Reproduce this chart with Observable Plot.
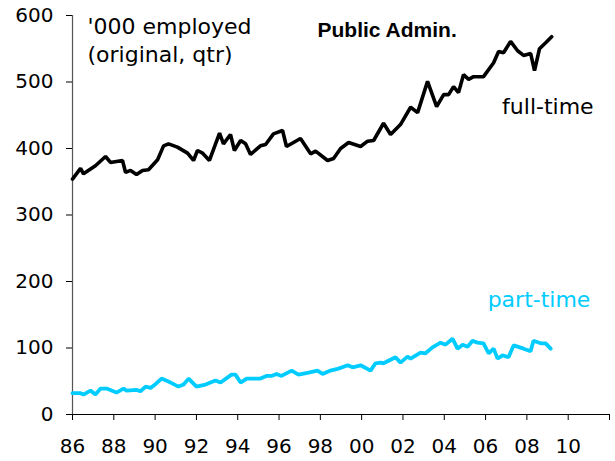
<!DOCTYPE html>
<html>
<head>
<meta charset="utf-8">
<script src="https://cdn.jsdelivr.net/npm/d3@7"></script>
<script src="https://cdn.jsdelivr.net/npm/@observablehq/plot@0.6"></script>
<style>
  html, body { margin: 0; padding: 0; background: #fff; }
  #chart svg { display: block; }
</style>
</head>
<body>
<div id="chart"></div>
<script>
// Full-time employment, Public Administration ('000)
const ftYear = [1986.00,1986.39,1986.53,1987.11,1987.60,1987.84,1988.42,1988.57,1988.81,1989.10,
  1989.39,1989.68,1990.12,1990.41,1990.65,1991.08,1991.57,1991.86,1992.05,1992.30,
  1992.63,1993.12,1993.31,1993.65,1993.84,1994.14,1994.38,1994.62,1995.10,1995.35,
  1995.73,1996.17,1996.36,1997.04,1997.53,1997.77,1998.35,1998.64,1998.98,1999.37,
  1999.95,2000.29,2000.58,2001.06,2001.40,2001.88,2002.37,2002.71,2003.19,2003.63,
  2003.97,2004.21,2004.45,2004.69,2004.93,2005.18,2005.42,2005.90,2006.39,2006.63,
  2006.87,2007.21,2007.55,2007.84,2008.18,2008.37,2008.61,2008.91,2009.20];
const ftValue = [354,370,362,374,388,379,382,364,367,361,
  367,368,383,404,407,402,393,382,397,393,
  382,423,407,421,397,412,407,391,404,406,
  422,427,403,415,392,396,382,385,400,409,
  403,411,412,438,421,436,462,454,501,463,
  481,481,493,484,511,504,508,508,529,546,
  544,561,547,540,543,517,550,559,568];

// Part-time employment ('000)
const ptYear = [1986.00,1986.39,1986.53,1986.87,1987.11,1987.36,1987.65,1988.13,1988.47,1988.62,
  1989.10,1989.29,1989.54,1989.78,1990.03,1990.31,1990.75,1991.13,1991.38,1991.62,
  1992.00,1992.44,1992.92,1993.17,1993.70,1993.89,1994.14,1994.43,1995.10,1995.39,
  1995.64,1995.88,1996.12,1996.61,1996.94,1997.43,1997.86,1998.11,1998.49,1998.88,
  1999.32,1999.56,1999.95,2000.43,2000.67,2000.92,2001.06,2001.64,2001.88,2002.22,
  2002.37,2002.85,2003.09,2003.43,2003.82,2004.06,2004.40,2004.64,2004.89,2005.13,
  2005.37,2005.61,2005.90,2006.15,2006.39,2006.58,2006.82,2007.11,2007.36,2007.84,
  2008.18,2008.32,2008.66,2008.91,2009.15];
const ptValue = [32,32,30,36,30,39,39,33,39,36,
  37,35,42,40,46,54,48,42,45,54,
  42,45,51,48,60,60,48,54,54,58,
  58,61,58,66,60,63,66,61,66,69,
  74,71,74,66,77,78,77,86,78,87,
  84,93,92,101,108,105,114,99,105,102,
  111,108,107,92,99,84,89,86,104,99,
  95,111,107,107,99];

const xTicks = [1986,1988,1990,1992,1994,1996,1998,2000,2002,2004,2006,2008,2010,2012];
const yTicks = [0,100,200,300,400,500,600];

const unitLabel = ["'000 employed", "(original, qtr)"];
const title = "Public Admin.";
const seriesLabels = ["full-time", "part-time"];

const ft = ftYear.map((y, i) => ({year: y, value: ftValue[i]}));
const pt = ptYear.map((y, i) => ({year: y, value: ptValue[i]}));

const tickFont = "DejaVu Sans, Verdana, sans-serif";
const fmtYear = d => d === 2012 ? "" : String(d % 100).padStart(2, "0");

const chart = Plot.plot({
  width: 615,
  height: 461,
  marginLeft: 72,
  marginRight: 6,
  marginTop: 15,
  marginBottom: 47,
  style: {fontFamily: tickFont, fontSize: "20px", color: "#000", background: "#fff"},
  x: {domain: [1986, 2012]},
  y: {domain: [0, 600]},
  marks: [
    Plot.axisX({ticks: xTicks, tickSize: 6, tickPadding: 18, label: null,
      tickFormat: fmtYear, stroke: "#000"}),
    Plot.axisY({ticks: yTicks, tickSize: 6, tickPadding: 13, label: null, stroke: "#000"}),
    Plot.ruleX([1986], {stroke: "#555", strokeWidth: 1.2}),
    Plot.ruleY([0], {stroke: "#000", strokeWidth: 1.2}),
    Plot.line(pt, {x: "year", y: "value", stroke: "#00ccff", strokeWidth: 3.8, strokeLinejoin: "miter"}),
    Plot.line(ft, {x: "year", y: "value", stroke: "#000", strokeWidth: 3.6, strokeLinejoin: "miter"}),
    Plot.text([unitLabel.join("\n")], {frameAnchor: "top-left", dx: 15, dy: -2, lineHeight: 1.3,
      textAnchor: "start", fontSize: 22, fill: "#000", fontFamily: tickFont}),
    Plot.text([title], {frameAnchor: "top-left", dx: 245, dy: 7, textAnchor: "start",
      fontSize: 21, fontWeight: "bold", fill: "#000", fontFamily: "Liberation Sans, Arial, sans-serif",
      letterSpacing: 0.6}),
    Plot.text([seriesLabels[0]], {x: 2006.8, y: 452, textAnchor: "start", lineAnchor: "bottom",
      fontSize: 22, fill: "#000", fontFamily: tickFont}),
    Plot.text([seriesLabels[1]], {x: 2006.1, y: 162, textAnchor: "start", lineAnchor: "bottom",
      fontSize: 22, fill: "#00ccff", fontFamily: tickFont, letterSpacing: 0.4})
  ]
});

document.getElementById("chart").appendChild(chart);
</script>
</body>
</html>
